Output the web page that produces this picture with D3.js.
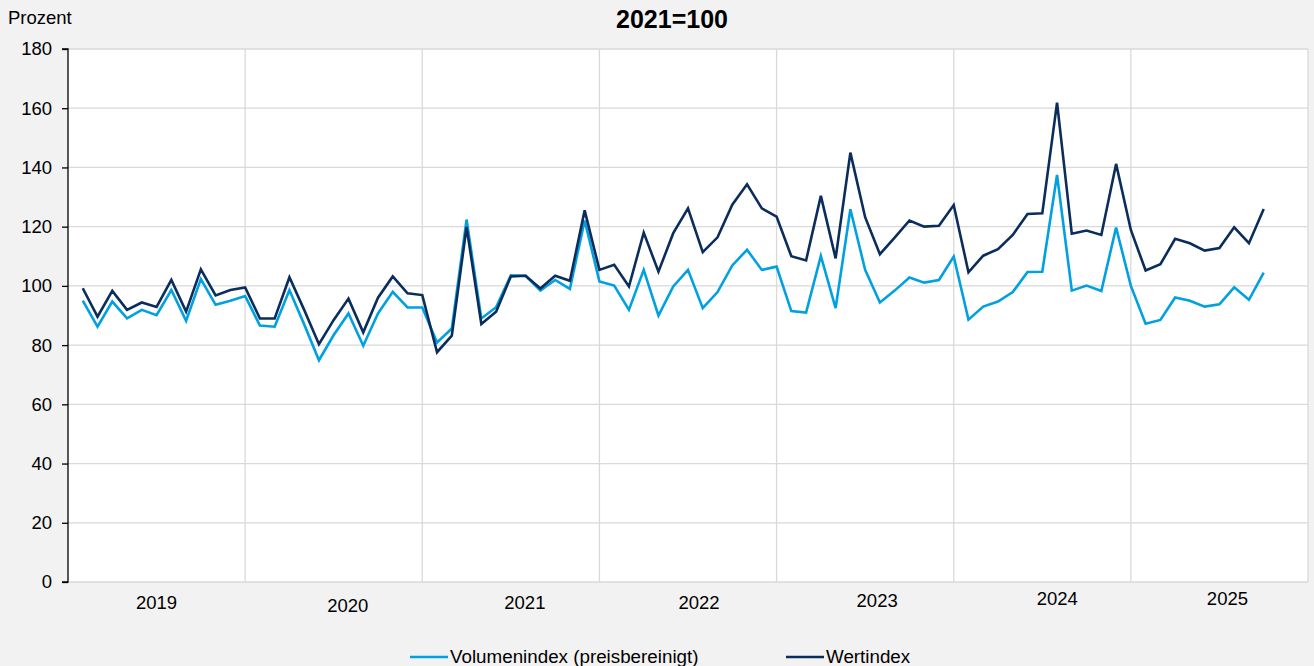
<!DOCTYPE html>
<html><head><meta charset="utf-8">
<script src="https://cdn.jsdelivr.net/npm/d3@7"></script>
<style>
html,body{margin:0;padding:0;background:#f2f2f2;}
svg{display:block;font-family:"Liberation Sans",Arial,sans-serif;}
</style></head>
<body>
<svg id="c" width="1314" height="666"></svg>
<script>
// ---- DATA ----
const years = ["2019","2020","2021","2022","2023","2024","2025"];
const months = [];
years.forEach(y => { for (let m = 1; m <= 12; m++) { if (y === "2025" && m > 9) break; months.push(y + "-" + String(m).padStart(2, "0")); } });
const volumenindex = [
  95.0, 86.2, 94.7, 89.0, 91.9, 90.1, 98.6, 88.2, 102.3, 93.6, 95.0, 96.6,
  86.6, 86.2, 98.6, 87.0, 74.9, 83.4, 90.7, 79.8, 90.7, 98.0, 92.7, 92.7,
  80.9, 85.6, 122.4, 89.0, 92.8, 103.6, 103.4, 98.4, 102.0, 99.0, 122.1, 101.5,
  100.1, 91.9, 105.4, 90.0, 99.8, 105.4, 92.5, 97.9, 106.9, 112.2, 105.4, 106.5,
  91.5, 91.0, 110.1, 92.5, 125.9, 105.4, 94.4, 98.4, 102.8, 101.1, 102.0, 109.9,
  88.6, 93.0, 94.7, 97.9, 104.7, 104.8, 137.5, 98.4, 100.1, 98.3, 119.7, 100.0,
  87.2, 88.5, 96.1, 95.0, 93.0, 93.8, 99.5, 95.3, 104.5
];
const wertindex = [
  99.2, 89.6, 98.3, 91.9, 94.4, 92.9, 102.0, 91.3, 105.6, 96.8, 98.6, 99.5,
  89.0, 89.0, 102.9, 91.9, 80.3, 88.5, 95.7, 84.3, 96.0, 103.2, 97.5, 96.9,
  77.6, 83.2, 119.9, 87.1, 91.3, 103.2, 103.4, 99.1, 103.4, 101.7, 125.5, 105.4,
  107.1, 99.8, 118.0, 104.8, 117.8, 126.2, 111.4, 116.4, 127.4, 134.3, 126.2, 123.4,
  110.0, 108.6, 130.4, 109.3, 145.0, 123.2, 110.7, 116.3, 122.1, 120.0, 120.3, 127.3,
  104.6, 110.2, 112.4, 117.2, 124.3, 124.5, 161.9, 117.6, 118.7, 117.2, 141.2, 118.9,
  105.2, 107.3, 115.9, 114.4, 111.9, 112.8, 119.8, 114.4, 126.0
];
const yTicks = [0, 20, 40, 60, 80, 100, 120, 140, 160, 180];
const seriesNames = ["Volumenindex (preisbereinigt)", "Wertindex"];
const title = "2021=100";
const yUnit = "Prozent";

// ---- LAYOUT ----
const svg = d3.select("#c");
const L = 68, R = 1308, T = 49, B = 582;
const x = d3.scaleLinear().domain([0, 84]).range([L, R]);
const y = d3.scaleLinear().domain([0, 180]).range([B, T]);
const colors = ["#00a0e1", "#0b2d5b"];
const FS = "18.5px";

svg.append("rect").attr("width", 1314).attr("height", 666).attr("fill", "#f2f2f2");
svg.append("rect").attr("x", L).attr("y", T).attr("width", R - L).attr("height", B - T).attr("fill", "#ffffff");

// horizontal grid
svg.append("g").selectAll("line").data(yTicks).join("line")
  .attr("x1", L).attr("x2", R).attr("y1", d => y(d)).attr("y2", d => y(d))
  .attr("stroke", "#d9d9d9").attr("stroke-width", 1.3);
// vertical year separators + right border
const seps = [12, 24, 36, 48, 60, 72, 84];
svg.append("g").selectAll("line").data(seps).join("line")
  .attr("x1", d => x(d)).attr("x2", d => x(d)).attr("y1", T).attr("y2", B)
  .attr("stroke", "#d9d9d9").attr("stroke-width", 1.3);

// y axis
const yAxis = d3.axisLeft(y).tickValues(yTicks).tickSize(6).tickPadding(10);
const ga = svg.append("g").attr("transform", `translate(${L},0)`).call(yAxis);
ga.select(".domain").attr("stroke", "#000").attr("stroke-width", 1.3).attr("d", `M-6,${T}H0V${B}H-6`);
ga.selectAll(".tick line").attr("stroke", "#000").attr("stroke-width", 1.3);
ga.selectAll(".tick text").attr("font-size", FS).attr("fill", "#000")
  .attr("font-family", "'Liberation Sans', Arial, sans-serif");

// year labels (slight nudges to match reference placement)
const yearDx = [0, 14, 14, 11, 12, 15, 8];
const yearCy = [603, 606, 603, 603, 601, 599, 599];
svg.append("g").selectAll("text").data(years).join("text")
  .attr("x", (d, i) => x(i * 12 + 6) + yearDx[i])
  .attr("y", (d, i) => yearCy[i])
  .attr("dy", "0.35em")
  .attr("text-anchor", "middle").attr("font-size", FS).attr("fill", "#000")
  .text(d => d);

// lines
const line = d3.line().x((d, i) => x(i + 1)).y(d => y(d));
[volumenindex, wertindex].forEach((s, k) => {
  svg.append("path").datum(s).attr("d", line).attr("fill", "none")
    .attr("stroke", colors[k]).attr("stroke-width", 2.6).attr("stroke-linejoin", "miter");
});

// title and unit
svg.append("text").attr("x", 672).attr("y", 28).attr("text-anchor", "middle")
  .attr("font-size", "25px").attr("font-weight", "bold").attr("fill", "#000").text(title);
svg.append("text").attr("x", 8).attr("y", 24).attr("font-size", FS).attr("fill", "#000").text(yUnit);

// legend
const legX = [410, 786];
const lg = svg.append("g");
seriesNames.forEach((n, k) => {
  lg.append("line").attr("x1", legX[k]).attr("x2", legX[k] + 38).attr("y1", 657).attr("y2", 657)
    .attr("stroke", colors[k]).attr("stroke-width", 2.6);
  lg.append("text").attr("x", legX[k] + 40).attr("y", 663).attr("font-size", "18.8px").attr("fill", "#000").text(n);
});
</script>
</body></html>
